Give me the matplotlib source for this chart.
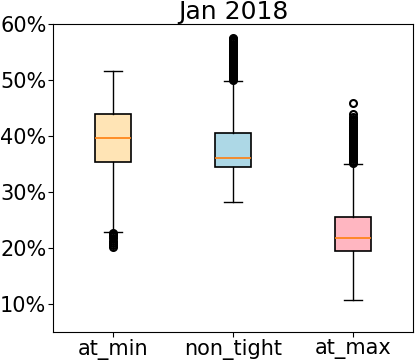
import matplotlib
matplotlib.use("Agg")
import matplotlib.pyplot as plt
from matplotlib.ticker import FuncFormatter

categories = ["at_min", "non_tight", "at_max"]
box_colors = ["moccasin", "lightblue", "lightpink"]

medians = [0.396, 0.361, 0.218]
q1 = [0.354, 0.344, 0.194]
q3 = [0.439, 0.406, 0.256]
whisker_low = [0.229, 0.282, 0.106]
whisker_high = [0.517, 0.499, 0.350]

fliers_at_min = [0.227, 0.224, 0.221, 0.217, 0.213, 0.209, 0.205, 0.201]
fliers_non_tight = [0.500, 0.5025, 0.505, 0.5075, 0.510, 0.5125, 0.515,
                    0.5175, 0.520, 0.5225, 0.525, 0.5275, 0.530, 0.5325,
                    0.535, 0.5375, 0.540, 0.5425, 0.545, 0.5475, 0.550,
                    0.5525, 0.555, 0.5575, 0.560, 0.5625, 0.565, 0.5675,
                    0.570, 0.572, 0.574, 0.576]
fliers_at_max = [0.351, 0.3535, 0.356, 0.3585, 0.361, 0.3635, 0.366, 0.3685,
                 0.371, 0.3735, 0.376, 0.3785, 0.381, 0.3835, 0.386, 0.3885,
                 0.391, 0.3935, 0.396, 0.3985, 0.401, 0.4035, 0.406, 0.4085,
                 0.411, 0.4135, 0.416, 0.419, 0.423, 0.427, 0.431, 0.435,
                 0.439, 0.460]
fliers = [fliers_at_min, fliers_non_tight, fliers_at_max]

title = "Jan 2018"
y_limits = (0.05, 0.60)
y_ticks = [0.10, 0.20, 0.30, 0.40, 0.50, 0.60]

stats = []
for i, name in enumerate(categories):
    stats.append(dict(label=name, med=medians[i], q1=q1[i], q3=q3[i],
                      whislo=whisker_low[i], whishi=whisker_high[i],
                      fliers=fliers[i]))

fig = plt.figure(figsize=(4.15, 3.6), dpi=100)
ax = fig.add_axes([0.1285, 0.0786, 0.8675, 0.8539])

bp = ax.bxp(stats, patch_artist=True,
            flierprops=dict(marker='o', markersize=5, markerfacecolor='none',
                            markeredgecolor='black', markeredgewidth=1.5),
            medianprops=dict(color='#ff7f0e', linewidth=1.2),
            boxprops=dict(linewidth=1.2))
for patch, c in zip(bp['boxes'], box_colors):
    patch.set_facecolor(c)
    patch.set_edgecolor('black')

ax.set_ylim(*y_limits)
ax.set_yticks(y_ticks)
ax.yaxis.set_major_formatter(FuncFormatter(lambda v, p: f"{v*100:.0f}%"))
ax.tick_params(axis='both', labelsize=15)
ax.tick_params(axis='x', pad=2)
ax.tick_params(axis='y', pad=1.5)
ax.set_title(title, fontsize=18, pad=3)

fig.savefig("out.png", dpi=100)
